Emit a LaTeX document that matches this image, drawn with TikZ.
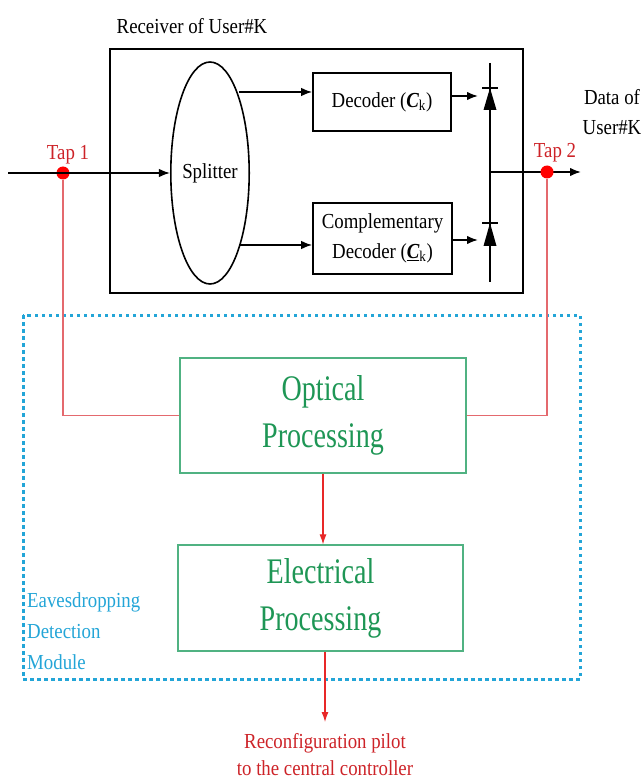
\documentclass[tikz,border=0pt]{standalone}
\usepackage{fontspec}
\setmainfont[FakeStretch=0.88]{Liberation Serif}
\newfontfamily\bigfont[FakeStretch=0.78]{Liberation Serif}
\usetikzlibrary{shapes.geometric,arrows.meta}
\definecolor{tapred}{RGB}{205,35,40}
\definecolor{linered}{RGB}{228,105,110}
\definecolor{arrred}{RGB}{232,40,40}
\definecolor{grn}{RGB}{30,150,85}
\definecolor{grnbox}{RGB}{80,178,130}
\definecolor{blu}{RGB}{35,165,215}
\begin{document}
\begin{tikzpicture}[x=1pt,y=-1pt,
  txt/.style={font=\fontsize{21.4}{30}\selectfont, inner sep=0pt, align=center},
  bigtxt/.style={font=\bigfont\fontsize{36}{47}\selectfont, text=grn, align=center},
  blk/.style={draw, line width=1.6pt, inner sep=0pt, align=center, font=\fontsize{21.4}{30}\selectfont},
  procbox/.style={draw=grnbox, line width=1.2pt, inner sep=0pt, bigtxt},
  sig/.style={line width=1.7pt, -{Latex[length=11pt,width=8.5pt]}},
  wire/.style={line width=1.7pt},
  tapline/.style={draw=linered, line width=1.1pt},
  redarr/.style={draw=arrred, line width=1.1pt, -{Latex[length=10pt,width=7pt]}},
  tapdot/.style={circle, fill=red, draw=none, minimum size=13pt, inner sep=0pt},
  taplbl/.style={txt, text=tapred}
]
\useasboundingbox (0,0) rectangle (642,783);

% receiver
\node[draw, line width=2.6pt, minimum width=413pt, minimum height=244pt, inner sep=0pt] (rx) at (316.5,171) {};
\node[txt] (rxlbl) at (192,26) {Receiver of User\#K};

\node[ellipse, draw, line width=1.6pt, minimum width=76pt, minimum height=222pt, inner sep=0pt, font=\fontsize{21.4}{30}\selectfont] (split) at (210,173) {Splitter};

\node[blk, minimum width=138pt, minimum height=58pt] (dec) at (382,102) {Decoder ({\bfseries\itshape C}\textsubscript{k})};
\node[blk, minimum width=139pt, minimum height=71pt] (cdec) at (382.5,238.5) {Complementary\\Decoder (\underline{{\bfseries\itshape C}}\textsubscript{k})};

% input
\coordinate (in) at (8,173);
\node[tapdot] (tap1) at (63,173) {};
\node[taplbl] (tap1l) at (68,155) {Tap 1};
\draw[sig] (in) -- (split.west);

\coordinate (sA) at (239,92);
\coordinate (sB) at (240,245);
\draw[sig] (sA) -- (sA -| dec.west);
\draw[sig] (sB) -- (sB -| cdec.west);

% photodiodes
\coordinate (pdtop) at (490,63);
\coordinate (pdbot) at (490,282);
\draw[wire] (pdtop) -- (pdbot);
\coordinate (d1) at (490,88);
\coordinate (d2) at (490,223);
\fill (d1) -- ++(-6.5,22) -- ++(13,0) -- cycle;
\draw[wire] ([xshift=-8pt]d1) -- ([xshift=8pt]d1);
\fill (d2) -- ++(-6.5,23) -- ++(13,0) -- cycle;
\draw[wire] ([xshift=-8pt]d2) -- ([xshift=8pt]d2);
\coordinate (a1) at (478,96);
\coordinate (a2) at (478,240);
\draw[sig] (dec.east |- a1) -- (a1);
\draw[sig] (cdec.east |- a2) -- (a2);

% output
\coordinate (oj) at (490,172);
\coordinate (out) at (581,172);
\draw[sig] (oj) -- (out);
\node[tapdot] (tap2) at (547,172) {};
\node[taplbl] (tap2l) at (555,153) {Tap 2};
\node[txt] (data) at (612,112) {Data of\\User\#K};

% eavesdropping module
\draw[blu, line width=3pt, dash pattern=on 3.5pt off 3.5pt] (23,315) rectangle (580,679);
\node[txt, text=blu, align=left, anchor=north west, font=\fontsize{21.4}{31}\selectfont] (edm) at (27,592) {Eavesdropping\\Detection\\Module};

\node[procbox, minimum width=286pt, minimum height=115pt] (opt) at (323,415.5) {Optical\\Processing};
\node[procbox, minimum width=285pt, minimum height=106pt] (ele) at (320.5,598) {Electrical\\Processing};

\draw[tapline] (tap1) |- (opt.west);
\draw[tapline] (tap2) |- (opt.east);
\draw[redarr] (opt.south) -- (opt.south |- ele.north);
\coordinate (pilot) at (325,722);
\draw[redarr] (ele.south -| pilot) -- (pilot);
\node[txt, text=tapred, font=\fontsize{21.4}{27}\selectfont] (pil) at (325,755) {Reconfiguration pilot\\to the central controller};
\end{tikzpicture}
\end{document}
